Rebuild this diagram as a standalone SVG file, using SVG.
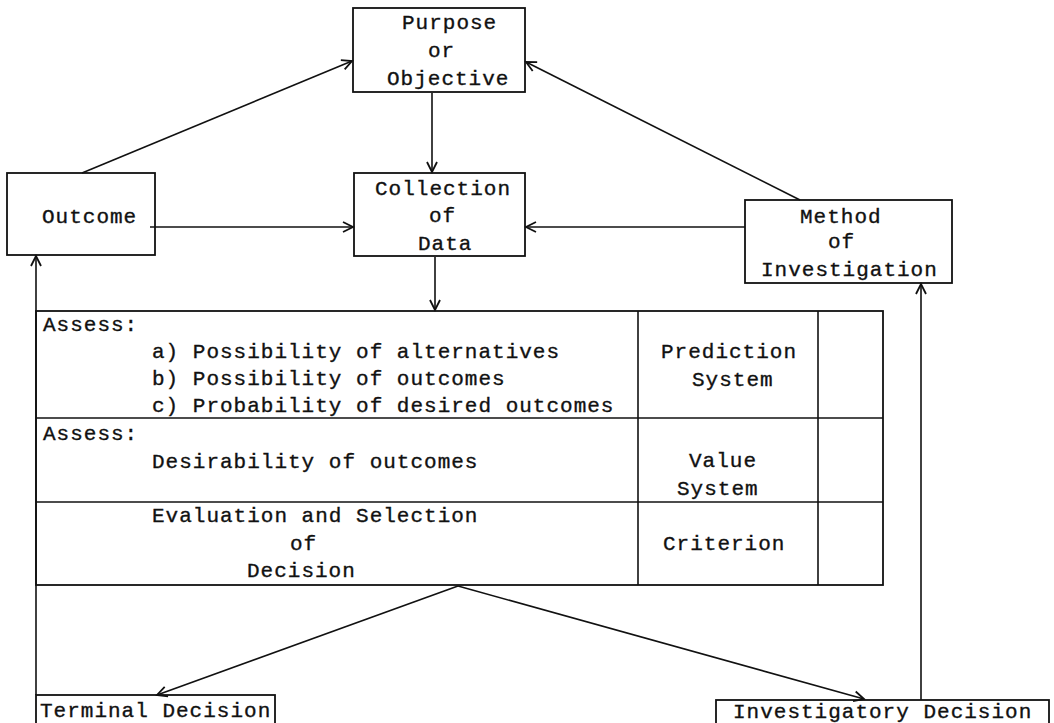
<svg xmlns="http://www.w3.org/2000/svg" width="1054" height="723" viewBox="0 0 1054 723">
<defs>
<marker id="arr" markerUnits="userSpaceOnUse" markerWidth="14" markerHeight="14" refX="11" refY="6" orient="auto" viewBox="0 0 14 12">
<path d="M1,1 L11,6 L1,11" fill="none" stroke="#111" stroke-width="1.8"/>
</marker>
<style>
.t{font-family:"Liberation Mono","Courier New",monospace;font-size:21px;letter-spacing:1px;fill:#111;stroke:#111;stroke-width:0.35}
.b{fill:none;stroke:#111;stroke-width:1.8}
.c{fill:none;stroke:#111;stroke-width:1.6}
.ca{fill:none;stroke:#111;stroke-width:1.6;marker-end:url(#arr)}
</style>
</defs>
<rect width="1054" height="723" fill="#fff"/>
<g id="connectors">
<line class="ca" x1="82" y1="173" x2="352" y2="61"/>
<line class="ca" x1="800" y1="200" x2="526" y2="62"/>
<line class="ca" x1="432" y1="93" x2="432" y2="172"/>
<line class="ca" x1="150" y1="227" x2="353" y2="227"/>
<line class="ca" x1="745" y1="227" x2="526" y2="227"/>
<line class="ca" x1="435" y1="257" x2="435" y2="310"/>
<line class="ca" x1="36" y1="695" x2="36" y2="256"/>
<line class="ca" x1="921" y1="700" x2="921" y2="284"/>
<line class="ca" x1="458" y1="586" x2="157" y2="695"/>
<line class="ca" x1="458" y1="586" x2="864" y2="699"/>
</g>
<g id="purpose">
<rect class="b" x="353" y="8" width="172" height="84"/>
<text class="t" x="402" y="29">Purpose</text>
<text class="t" x="428" y="57">or</text>
<text class="t" x="387" y="85">Objective</text>
</g>
<g id="outcome">
<rect class="b" x="7" y="173" width="148" height="82"/>
<text class="t" x="42" y="223">Outcome</text>
</g>
<g id="collection">
<rect class="b" x="354" y="173" width="171" height="83"/>
<text class="t" x="375" y="195">Collection</text>
<text class="t" x="429" y="222">of</text>
<text class="t" x="418" y="250">Data</text>
</g>
<g id="method">
<rect class="b" x="745" y="200" width="207" height="83"/>
<text class="t" x="800" y="223">Method</text>
<text class="t" x="828" y="248">of</text>
<text class="t" x="761" y="276">Investigation</text>
</g>
<g id="table">
<rect class="b" x="36" y="311" width="847" height="274"/>
<line class="c" x1="36" y1="418" x2="883" y2="418"/>
<line class="c" x1="36" y1="502" x2="883" y2="502"/>
<line class="c" x1="638" y1="311" x2="638" y2="585"/>
<line class="c" x1="818" y1="311" x2="818" y2="585"/>
<text class="t" x="43" y="331">Assess:</text>
<text class="t" x="152" y="358">a) Possibility of alternatives</text>
<text class="t" x="152" y="385">b) Possibility of outcomes</text>
<text class="t" x="152" y="412">c) Probability of desired outcomes</text>
<text class="t" x="43" y="440">Assess:</text>
<text class="t" x="152" y="468">Desirability of outcomes</text>
<text class="t" x="152" y="522">Evaluation and Selection</text>
<text class="t" x="290" y="550">of</text>
<text class="t" x="247" y="577">Decision</text>
<text class="t" x="661" y="358">Prediction</text>
<text class="t" x="692" y="386">System</text>
<text class="t" x="689" y="467">Value</text>
<text class="t" x="677" y="495">System</text>
<text class="t" x="663" y="550">Criterion</text>
</g>
<g id="terminal">
<rect class="b" x="36" y="695" width="239" height="30"/>
<text class="t" x="40" y="717">Terminal Decision</text>
</g>
<g id="investigatory">
<rect class="b" x="716" y="700" width="333" height="25"/>
<text class="t" x="733" y="718">Investigatory Decision</text>
</g>
</svg>
